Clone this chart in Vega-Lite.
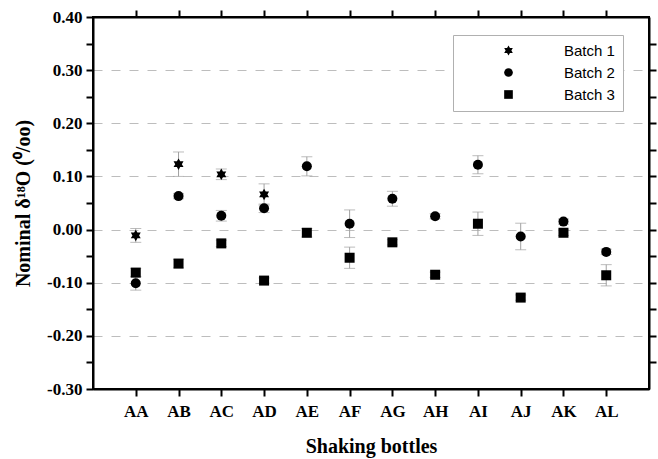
{
  "$schema": "https://vega.github.io/schema/vega-lite/v6.json",
  "autosize": "none",
  "width": 556,
  "height": 372,
  "padding": {"left": 93, "top": 17, "right": 9, "bottom": 70},
  "background": "white",
  "config": {
    "view": {"stroke": "black", "strokeWidth": 2},
    "axis": {
      "labelFont": "Liberation Serif",
      "labelFontWeight": "bold",
      "labelFontSize": 17,
      "labelColor": "black",
      "titleFont": "Liberation Serif",
      "titleFontWeight": "bold",
      "titleFontSize": 20,
      "titleColor": "black",
      "domainColor": "black",
      "domainWidth": 2,
      "tickColor": "black",
      "tickWidth": 2,
      "tickSize": 7
    }
  },
  "data": {
    "values": [
      {"bottle": "AA", "batch": "Batch 1", "value": -0.011, "lo": -0.024, "hi": 0.002},
      {"bottle": "AA", "batch": "Batch 2", "value": -0.101, "lo": -0.114, "hi": -0.088},
      {"bottle": "AA", "batch": "Batch 3", "value": -0.081, "lo": -0.089, "hi": -0.073},
      {"bottle": "AB", "batch": "Batch 1", "value": 0.123, "lo": 0.1, "hi": 0.146},
      {"bottle": "AB", "batch": "Batch 2", "value": 0.063, "lo": 0.058, "hi": 0.068},
      {"bottle": "AB", "batch": "Batch 3", "value": -0.064, "lo": -0.072, "hi": -0.056},
      {"bottle": "AC", "batch": "Batch 1", "value": 0.104, "lo": 0.094, "hi": 0.114},
      {"bottle": "AC", "batch": "Batch 2", "value": 0.026, "lo": 0.016, "hi": 0.036},
      {"bottle": "AC", "batch": "Batch 3", "value": -0.026, "lo": -0.032, "hi": -0.02},
      {"bottle": "AD", "batch": "Batch 1", "value": 0.066, "lo": 0.046, "hi": 0.086},
      {"bottle": "AD", "batch": "Batch 2", "value": 0.04, "lo": 0.032, "hi": 0.048},
      {"bottle": "AD", "batch": "Batch 3", "value": -0.096, "lo": -0.101, "hi": -0.091},
      {"bottle": "AE", "batch": "Batch 2", "value": 0.119, "lo": 0.101, "hi": 0.137},
      {"bottle": "AE", "batch": "Batch 3", "value": -0.006, "lo": -0.014, "hi": 0.002},
      {"bottle": "AF", "batch": "Batch 2", "value": 0.011, "lo": -0.015, "hi": 0.037},
      {"bottle": "AF", "batch": "Batch 3", "value": -0.053, "lo": -0.073, "hi": -0.033},
      {"bottle": "AG", "batch": "Batch 2", "value": 0.058, "lo": 0.044, "hi": 0.072},
      {"bottle": "AG", "batch": "Batch 3", "value": -0.024, "lo": -0.029, "hi": -0.019},
      {"bottle": "AH", "batch": "Batch 2", "value": 0.025, "lo": 0.02, "hi": 0.03},
      {"bottle": "AH", "batch": "Batch 3", "value": -0.085, "lo": -0.09, "hi": -0.08},
      {"bottle": "AI", "batch": "Batch 2", "value": 0.122, "lo": 0.105, "hi": 0.139},
      {"bottle": "AI", "batch": "Batch 3", "value": 0.011, "lo": -0.011, "hi": 0.033},
      {"bottle": "AJ", "batch": "Batch 2", "value": -0.013, "lo": -0.038, "hi": 0.012},
      {"bottle": "AJ", "batch": "Batch 3", "value": -0.128, "lo": -0.133, "hi": -0.123},
      {"bottle": "AK", "batch": "Batch 2", "value": 0.015, "lo": 0.01, "hi": 0.02},
      {"bottle": "AK", "batch": "Batch 3", "value": -0.006, "lo": -0.011, "hi": -0.001},
      {"bottle": "AL", "batch": "Batch 2", "value": -0.042, "lo": -0.047, "hi": -0.037},
      {"bottle": "AL", "batch": "Batch 3", "value": -0.086, "lo": -0.106, "hi": -0.066}
    ]
  },
  "resolve": {"axis": {"x": "independent", "y": "independent"}},
  "layer": [
    {
      "mark": {"type": "rule", "color": "#a0a0a0", "strokeWidth": 1},
      "encoding": {
        "x": {
          "field": "bottle", "type": "nominal",
          "scale": {"type": "point", "padding": 1, "domain": ["AA","AB","AC","AD","AE","AF","AG","AH","AI","AJ","AK","AL"]},
          "axis": {"orient": "bottom", "title": "Shaking bottles", "labelAngle": 0, "labelPadding": 7, "titlePadding": 17}
        },
        "y": {
          "field": "lo", "type": "quantitative",
          "scale": {"domain": [-0.3, 0.4], "nice": false, "zero": false},
          "axis": {
            "orient": "left",
            "title": "Nominal  δ¹⁸O (⁰/oo)",
            "values": [-0.3, -0.25, -0.2, -0.15, -0.1, -0.05, 0, 0.05, 0.1, 0.15, 0.2, 0.25, 0.3, 0.35, 0.4],
            "format": ".2f",
            "labelExpr": "abs(round(datum.value*100)) % 10 == 5 ? '' : replace(datum.label, '−', '-')",
            "labelPadding": 4,
            "titlePadding": 13,
            "grid": false
          }
        },
        "y2": {"field": "hi"}
      }
    },
    {
      "mark": {"type": "tick", "color": "#a0a0a0", "size": 11, "thickness": 1, "orient": "horizontal"},
      "encoding": {
        "x": {"field": "bottle", "type": "nominal", "axis": null},
        "y": {
          "field": "lo", "type": "quantitative",
          "axis": {
            "orient": "left", "title": null, "labels": false, "ticks": false, "domain": false,
            "values": [-0.2, -0.1, 0, 0.1, 0.2, 0.3],
            "grid": true, "gridColor": "#bdbdbd", "gridDash": [9, 9], "gridWidth": 1
          }
        }
      }
    },
    {
      "mark": {"type": "tick", "color": "#a0a0a0", "size": 11, "thickness": 1, "orient": "horizontal"},
      "encoding": {
        "x": {"field": "bottle", "type": "nominal", "axis": null},
        "y": {"field": "hi", "type": "quantitative", "axis": null}
      }
    },
    {
      "mark": {"type": "point", "filled": true, "opacity": 1, "size": 100},
      "encoding": {
        "x": {
          "field": "bottle", "type": "nominal",
          "axis": {"orient": "top", "title": null, "labels": false}
        },
        "y": {
          "field": "value", "type": "quantitative",
          "axis": {
            "orient": "right", "title": null, "labels": false, "grid": false,
            "values": [-0.25, -0.2, -0.15, -0.1, -0.05, 0, 0.05, 0.1, 0.15, 0.2, 0.25, 0.3, 0.35]
          }
        },
        "shape": {
          "field": "batch", "type": "nominal",
          "scale": {"domain": ["Batch 1", "Batch 2", "Batch 3"], "range": ["M0,-1.15L0.332,-0.575L0.996,-0.575L0.664,0L0.996,0.575L0.332,0.575L0,1.15L-0.332,0.575L-0.996,0.575L-0.664,0L-0.996,-0.575L-0.332,-0.575Z", "circle", "square"]},
          "legend": {
            "orient": "none", "legendX": 360, "legendY": 18, "title": null,
            "labelFont": "Liberation Sans", "labelFontSize": 15, "labelColor": "black",
            "strokeColor": "#b0b0b0", "fillColor": "white", "padding": 8,
            "symbolOffset": 40, "labelOffset": 48, "rowPadding": 6,
            "symbolSize": 75, "symbolFillColor": "black", "symbolStrokeWidth": 0
          }
        },
        "color": {"value": "black"}
      }
    }
  ]
}
